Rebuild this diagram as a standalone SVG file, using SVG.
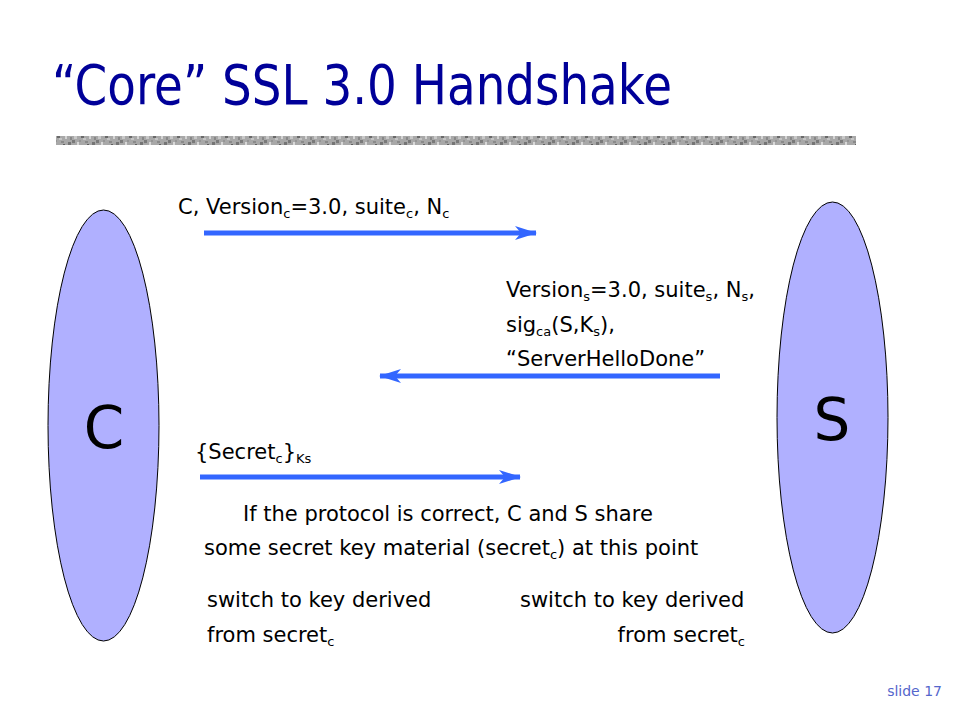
<svg xmlns="http://www.w3.org/2000/svg" width="960" height="720" viewBox="0 0 960 720">
  <defs>
    <style>
      .t { font-family: "DejaVu Sans", Verdana, sans-serif; font-size: 21px; fill: #000; }
      .title { font-family: "DejaVu Sans", Verdana, sans-serif; font-size: 55px; fill: #000099; }
      .big { font-family: "DejaVu Sans", Verdana, sans-serif; font-size: 58px; fill: #000; text-anchor: middle; }
      .sub { font-size: 13px; }
      .party { fill: #b0b0ff; stroke: #000; stroke-width: 1; }
      .msg { stroke: #3366ff; stroke-width: 5; fill: none; }
      .slide { font-family: "DejaVu Sans", Verdana, sans-serif; font-size: 14px; fill: #5566cc; text-anchor: end; }
    </style>
    <marker id="ah" markerUnits="userSpaceOnUse" markerWidth="22" markerHeight="16" viewBox="0 0 22 16" refX="21" refY="8" orient="auto">
      <path d="M0,1 L22,8 L0,15 L6,8 z" fill="#3366ff"/>
    </marker>
    <pattern id="noise" patternUnits="userSpaceOnUse" width="24" height="10">
      <rect width="24" height="10" fill="#a8a8a8"/>
      <rect x="0" y="0" width="3" height="3" fill="#7a7a7a"/>
      <rect x="5" y="2" width="2" height="4" fill="#d8d8d8"/>
      <rect x="9" y="5" width="3" height="3" fill="#6a6a6a"/>
      <rect x="13" y="1" width="3" height="2" fill="#8a8a8a"/>
      <rect x="17" y="6" width="2" height="3" fill="#d4d4d4"/>
      <rect x="20" y="2" width="3" height="3" fill="#757575"/>
      <rect x="2" y="6" width="3" height="3" fill="#c8c8c8"/>
      <rect x="7" y="0" width="2" height="2" fill="#959595"/>
      <rect x="15" y="4" width="2" height="2" fill="#5f5f5f"/>
      <rect x="11" y="8" width="3" height="2" fill="#c4c4c4"/>
      <rect x="22" y="7" width="2" height="3" fill="#888"/>
    </pattern>
  </defs>

  <rect width="960" height="720" fill="#fff"/>

  <text class="title" x="52" y="104" textLength="620" lengthAdjust="spacingAndGlyphs">“Core” SSL 3.0 Handshake</text>
  <rect x="56" y="136" width="800" height="9" fill="url(#noise)"/>

  <g id="node-C">
    <ellipse class="party" cx="103.5" cy="425.5" rx="55.5" ry="215.5"/>
    <text class="big" x="104" y="448">C</text>
  </g>
  <g id="node-S">
    <ellipse class="party" cx="832.5" cy="417.5" rx="55.5" ry="215.5"/>
    <text class="big" x="832" y="440">S</text>
  </g>

  <g id="connectors">
    <line class="msg" x1="204" y1="233" x2="536" y2="233" marker-end="url(#ah)"/>
    <line class="msg" x1="720" y1="376" x2="380" y2="376" marker-end="url(#ah)"/>
    <line class="msg" x1="200" y1="477" x2="520" y2="477" marker-end="url(#ah)"/>
  </g>

  <g id="labels">
    <text class="t" x="178" y="214">C, Version<tspan class="sub" dy="4">c</tspan><tspan dy="-4">=3.0, suite</tspan><tspan class="sub" dy="4">c</tspan><tspan dy="-4">, N</tspan><tspan class="sub" dy="4">c</tspan></text>

    <text class="t" x="506" y="297">Version<tspan class="sub" dy="4">s</tspan><tspan dy="-4">=3.0, suite</tspan><tspan class="sub" dy="4">s</tspan><tspan dy="-4">, N</tspan><tspan class="sub" dy="4">s</tspan><tspan dy="-4">,</tspan></text>
    <text class="t" x="506" y="332">sig<tspan class="sub" dy="4">ca</tspan><tspan dy="-4">(S,K</tspan><tspan class="sub" dy="4">s</tspan><tspan dy="-4">),</tspan></text>
    <text class="t" x="506" y="366">“ServerHelloDone”</text>

    <text class="t" x="195" y="459">{Secret<tspan class="sub" dy="4">c</tspan><tspan dy="-4">}</tspan><tspan class="sub" dy="4">Ks</tspan></text>

    <text class="t" x="243" y="521">If the protocol is correct, C and S share</text>
    <text class="t" x="204" y="555">some secret key material (secret<tspan class="sub" dy="4">c</tspan><tspan dy="-4">) at this point</tspan></text>

    <text class="t" x="207" y="607">switch to key derived</text>
    <text class="t" x="207" y="642">from secret<tspan class="sub" dy="4">c</tspan></text>

    <text class="t" x="520" y="607">switch to key derived</text>
    <text class="t" x="745" y="642" text-anchor="end">from secret<tspan class="sub" dy="4">c</tspan></text>
  </g>

  <text class="slide" x="942" y="696">slide 17</text>
</svg>
